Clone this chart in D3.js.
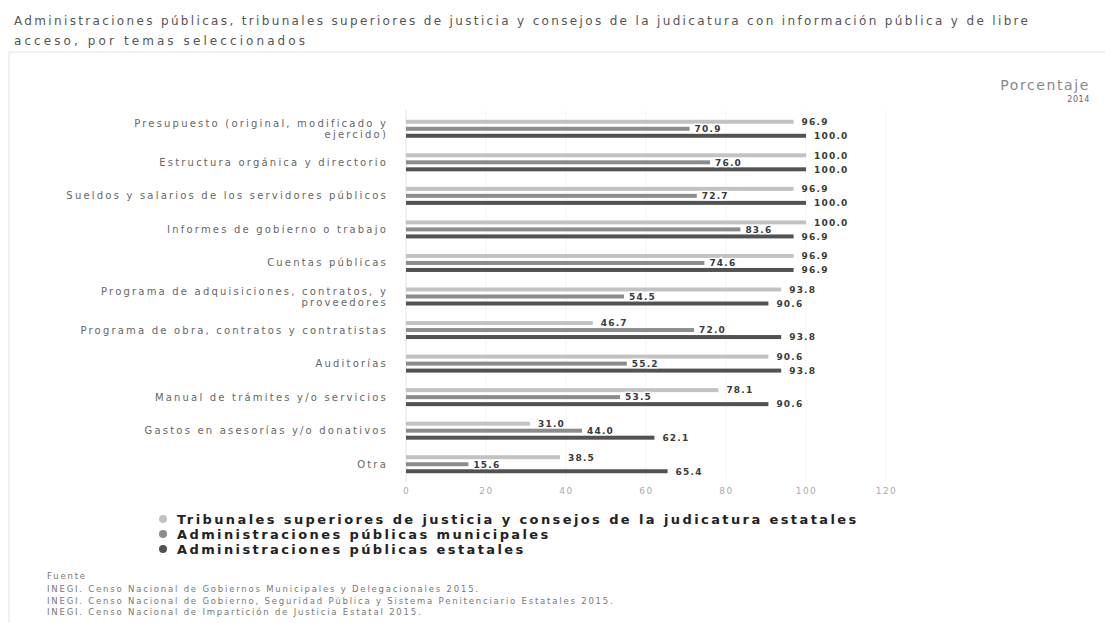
<!DOCTYPE html>
<html lang="es">
<head>
<meta charset="UTF-8">
<title>Información pública por temas</title>
<style>
    body { margin: 0; padding: 0; background: #fff; }
    svg { display: block; font-family: "DejaVu Sans", Verdana, sans-serif; }
</style>
</head>
<body>
<div id="chart"></div>
<script src="https://cdn.jsdelivr.net/npm/d3@7"></script>
<script>
    // data
    const categories = [
        ["Presupuesto (original, modificado y", "ejercido)"],
        ["Estructura orgánica y directorio"],
        ["Sueldos y salarios de los servidores públicos"],
        ["Informes de gobierno o trabajo"],
        ["Cuentas públicas"],
        ["Programa de adquisiciones, contratos, y", "proveedores"],
        ["Programa de obra, contratos y contratistas"],
        ["Auditorías"],
        ["Manual de trámites y/o servicios"],
        ["Gastos en asesorías y/o donativos"],
        ["Otra"]
    ];
    const seriesNames = [
        "Tribunales superiores de justicia y consejos de la judicatura estatales",
        "Administraciones públicas municipales",
        "Administraciones públicas estatales"
    ];
    const tribunales = [96.9, 100.0, 96.9, 100.0, 96.9, 93.8, 46.7, 90.6, 78.1, 31.0, 38.5];
    const municipales = [70.9, 76.0, 72.7, 83.6, 74.6, 54.5, 72.0, 55.2, 53.5, 44.0, 15.6];
    const estatales = [100.0, 100.0, 100.0, 96.9, 96.9, 90.6, 93.8, 93.8, 90.6, 62.1, 65.4];
    const xTicks = [0, 20, 40, 60, 80, 100, 120];
    const fuentes = [
        "INEGI. Censo Nacional de Gobiernos Municipales y Delegacionales 2015.",
        "INEGI. Censo Nacional de Gobierno, Seguridad Pública y Sistema Penitenciario Estatales 2015.",
        "INEGI. Censo Nacional de Impartición de Justicia Estatal 2015."
    ];

    const seriesValues = [tribunales, municipales, estatales];
    const colors = ["#c2c2c2", "#8c8c8c", "#525252"];

    const w = 1105;
    const h = 623;

    const svg = d3.select("#chart")
        .append("svg")
        .attr("width", w)
        .attr("height", h);

    // header
    const title = svg.append("g").attr("fill", "#555").attr("font-size", 12);
    title.append("text").attr("x", 14).attr("y", 25)
        .attr("textLength", 1014).attr("lengthAdjust", "spacing")
        .text("Administraciones públicas, tribunales superiores de justicia y consejos de la judicatura con información pública y de libre");
    title.append("text").attr("x", 14).attr("y", 45)
        .attr("textLength", 291).attr("lengthAdjust", "spacing")
        .text("acceso, por temas seleccionados");

    // panel frame
    svg.append("path")
        .attr("d", `M9,${h} V52 H${w}`)
        .attr("fill", "none")
        .attr("stroke", "#e2e2e2");

    svg.append("text")
        .attr("x", 1090).attr("y", 90)
        .attr("text-anchor", "end")
        .attr("font-size", 14).attr("fill", "#888")
        .attr("letter-spacing", 1.6)
        .text("Porcentaje");
    svg.append("text")
        .attr("x", 1090).attr("y", 102)
        .attr("text-anchor", "end")
        .attr("font-size", 8).attr("fill", "#666")
        .attr("letter-spacing", 0.6)
        .text("2014");

    // scales
    const x = d3.scaleLinear().domain([0, 120]).range([406, 886]);
    const y = d3.scaleBand().domain(d3.range(categories.length)).range([112, 481]);
    const inner = d3.scaleBand()
        .domain(d3.range(seriesValues.length))
        .range([y.bandwidth() / 2 - 9, y.bandwidth() / 2 + 9])
        .paddingInner(0.43);

    // grid
    svg.append("g")
        .selectAll("line")
        .data(xTicks.slice(1))
        .enter()
        .append("line")
        .attr("x1", d => x(d)).attr("x2", d => x(d))
        .attr("y1", 110).attr("y2", 482)
        .attr("stroke", "#f5f5f5");
    svg.append("line")
        .attr("x1", x(0)).attr("x2", x(0))
        .attr("y1", 110).attr("y2", 482)
        .attr("stroke", "#e4e4e4");

    // x axis labels
    const xAxis = d3.axisBottom(x).tickValues(xTicks).tickSize(0).tickPadding(0);
    svg.append("g")
        .attr("transform", "translate(0,488)")
        .call(xAxis)
        .call(g => g.select(".domain").remove())
        .call(g => g.selectAll("text")
            .attr("font-family", "DejaVu Sans, sans-serif")
            .attr("font-size", 9)
            .attr("letter-spacing", 1.5)
            .attr("fill", "#aaa"));

    // category labels
    const catLabels = svg.append("g")
        .attr("font-size", 10)
        .attr("fill", "#666")
        .attr("letter-spacing", 2.2)
        .attr("text-anchor", "end");
    categories.forEach((lines, i) => {
        const cy = y(i) + y.bandwidth() / 2;
        const t = catLabels.append("text")
            .attr("x", 388)
            .attr("y", cy - (lines.length - 1) * 5.5 + 3.5);
        lines.forEach((ln, j) => {
            t.append("tspan").attr("x", 388).attr("dy", j === 0 ? 0 : 11).text(ln);
        });
    });

    // bars
    const groups = svg.append("g")
        .selectAll("g")
        .data(categories)
        .enter()
        .append("g")
        .attr("transform", (d, i) => `translate(0,${y(i)})`);

    seriesValues.forEach((vals, s) => {
        groups.append("rect")
            .attr("x", x(0))
            .attr("y", inner(s))
            .attr("width", (d, i) => x(vals[i]) - x(0))
            .attr("height", inner.bandwidth())
            .attr("fill", colors[s]);
    });

    seriesValues.forEach((vals, s) => {
        groups.append("text")
            .attr("x", (d, i) => x(vals[i]) + (s === 1 ? 5 : 8))
            .attr("y", inner(s) + inner.bandwidth() / 2 + 3.3)
            .attr("font-size", 9)
            .attr("font-weight", "bold")
            .attr("letter-spacing", 1.2)
            .attr("fill", "#3a3a3a")
            .attr("stroke", "#fff")
            .attr("stroke-width", s === 1 ? 2.5 : 0)
            .attr("paint-order", "stroke")
            .text((d, i) => d3.format(".1f")(vals[i]));
    });

    // legend
    const legend = svg.append("g")
        .selectAll("g")
        .data(seriesNames)
        .enter()
        .append("g")
        .attr("transform", (d, i) => `translate(163,${519 + i * 15})`);
    legend.append("circle")
        .attr("r", 4)
        .attr("fill", (d, i) => colors[i]);
    legend.append("text")
        .attr("x", 14)
        .attr("y", 4.5)
        .attr("font-size", 13)
        .attr("font-weight", "bold")
        .attr("letter-spacing", 2.4)
        .attr("fill", "#222")
        .text(d => d);

    // source
    const src = svg.append("g")
        .attr("font-size", 8.5)
        .attr("fill", "#777")
        .attr("letter-spacing", 1.8);
    src.append("text").attr("x", 47).attr("y", 579).text("Fuente");
    src.selectAll("text.f")
        .data(fuentes)
        .enter()
        .append("text")
        .attr("class", "f")
        .attr("x", 47)
        .attr("y", (d, i) => 592 + i * 11.5)
        .text(d => d);
</script>
</body>
</html>
